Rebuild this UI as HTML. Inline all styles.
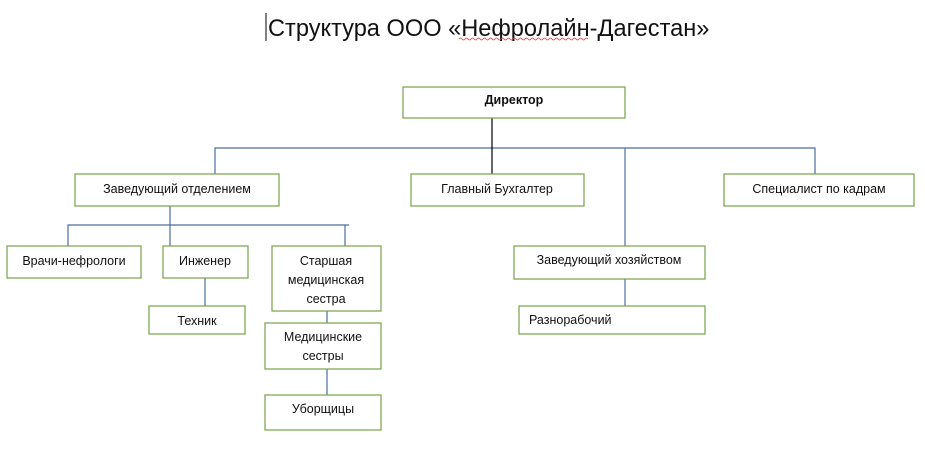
<!DOCTYPE html>
<html><head><meta charset="utf-8"><style>
html,body{margin:0;padding:0;background:#fff;width:925px;height:451px;overflow:hidden}
svg text{font-family:"Liberation Sans","DejaVu Sans",sans-serif;font-size:12.5px;fill:#111}
</style></head><body>
<svg width="925" height="451" xmlns="http://www.w3.org/2000/svg">
<line x1="266" y1="13" x2="266" y2="41" stroke="#000" stroke-width="1"/>
<text x="268" y="36" style="font-size:23.6px">Структура ООО «Нефролайн-Дагестан»</text>
<path d="M459 39 q1.5 -2 3 0 t3 0 t3 0 t3 0 t3 0 t3 0 t3 0 t3 0 t3 0 t3 0 t3 0 t3 0 t3 0 t3 0 t3 0 t3 0 t3 0 t3 0 t3 0 t3 0 t3 0 t3 0 t3 0 t3 0 t3 0 t3 0 t3 0 t3 0 t3 0 t3 0 t3 0 t3 0 t3 0 t3 0 t3 0 t3 0 t3 0 t3 0 t3 0 t3 0 t3 0 t3 0 t3 0" stroke="#e33" fill="none" stroke-width="0.8"/>
<g stroke="#4a6fa5" stroke-width="1.2" fill="none">
<path d="M215 177V148H815V177"/>
<path d="M625 148V246"/>
<path d="M170 206V246"/>
<path d="M68 250V225H349"/>
<path d="M345 225V246"/>
<path d="M205 278V306"/>
<path d="M327 311V323"/>
<path d="M327 369V395"/>
<path d="M625 279V306"/>
</g>
<path d="M492 117V177" stroke="#000" stroke-width="1.2"/>
<g stroke="#77a24a" stroke-width="1.2" fill="#fff">
<rect x="403" y="87" width="222" height="31"/>
<rect x="75" y="174" width="204" height="32"/>
<rect x="411" y="174" width="173" height="32"/>
<rect x="724" y="174" width="190" height="32"/>
<rect x="7" y="246" width="134" height="32"/>
<rect x="163" y="246" width="85" height="32"/>
<rect x="272" y="246" width="109" height="65"/>
<rect x="149" y="306" width="96" height="28"/>
<rect x="265" y="323" width="116" height="46"/>
<rect x="265" y="395" width="116" height="35"/>
<rect x="514" y="246" width="191" height="33"/>
<rect x="519" y="306" width="186" height="28"/>
</g>
<g text-anchor="middle">
<text x="514" y="104" style="font-weight:bold">Директор</text>
<text x="177" y="193">Заведующий отделением</text>
<text x="497" y="193">Главный Бухгалтер</text>
<text x="819" y="193">Специалист по кадрам</text>
<text x="74" y="265">Врачи-нефрологи</text>
<text x="205" y="265">Инженер</text>
<text x="326" y="265">Старшая</text>
<text x="326" y="284">медицинская</text>
<text x="326" y="303">сестра</text>
<text x="197" y="325">Техник</text>
<text x="323" y="341">Медицинские</text>
<text x="323" y="360">сестры</text>
<text x="323" y="413">Уборщицы</text>
<text x="609" y="264">Заведующий хозяйством</text>
</g>
<text x="529" y="324">Разнорабочий</text>
</svg>
</body></html>
